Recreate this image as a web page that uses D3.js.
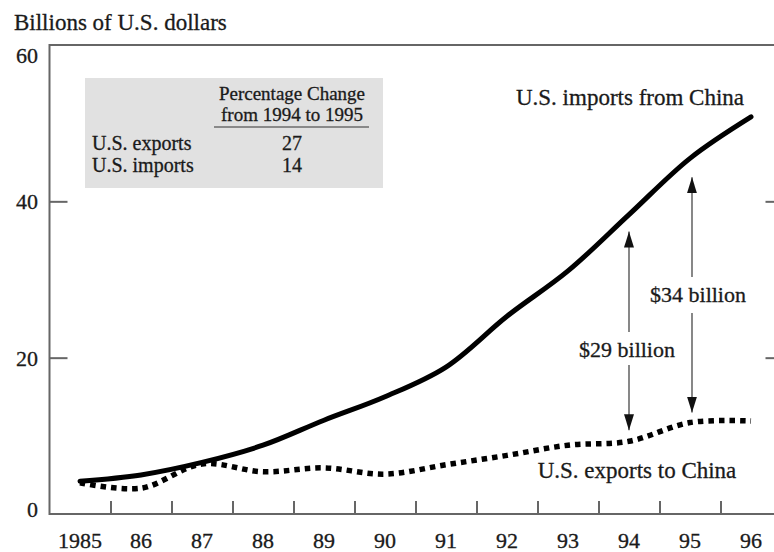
<!DOCTYPE html>
<html>
<head>
<meta charset="utf-8">
<script src="https://cdn.jsdelivr.net/npm/d3@7"></script>
<style>
  body { margin: 0; background: #fff; }
  svg text { font-family: "Liberation Serif", "DejaVu Serif", serif; fill: #1a1a1a; stroke: #1a1a1a; stroke-width: 0.3; }
</style>
</head>
<body>
<svg id="canvas" width="774" height="552"></svg>
<script>
let years = [1985, 1986, 1987, 1988, 1989, 1990, 1991, 1992, 1993, 1994, 1995, 1996]
let yearLabels = ['1985', '86', '87', '88', '89', '90', '91', '92', '93', '94', '95', '96']
let imports = [4.2, 5.0, 6.6, 8.8, 12.0, 15.0, 18.8, 25.3, 31.1, 38.3, 45.5, 50.8]
let exports = [4.0, 3.3, 6.4, 5.4, 5.9, 5.1, 6.3, 7.5, 8.8, 9.3, 11.7, 11.9]
let yTicks = [0, 20, 40, 60]
let tableRows = [['U.S. exports', '27'], ['U.S. imports', '14']]
let gaps = [{ year: 1994, label: '$29 billion' }, { year: 1995, label: '$34 billion' }]

let canvas = d3.select('#canvas')

let x = d3.scaleLinear().domain([1984.5, 1996.5]).range([49.5, 781.5])
let y = d3.scaleLinear().domain([0, 60]).range([514, 45])

// frame
canvas.append('rect')
    .attr('x', x(1984.5)).attr('y', y(60))
    .attr('width', x(1996.5) - x(1984.5)).attr('height', y(0) - y(60))
    .attr('fill', 'none').attr('stroke', '#666').attr('stroke-width', 2)

// ticks (inward)
let styleAxis = g => {
    g.select('.domain').remove()
    g.selectAll('.tick line').attr('stroke', '#666').attr('stroke-width', 2)
    g.selectAll('.tick text').remove()
}
canvas.append('g').attr('transform', `translate(0,${y(0)})`)
    .call(d3.axisBottom(x).tickValues(years.slice(0, -1).map(d => d + 0.5)).tickSize(-13))
    .call(styleAxis)
canvas.append('g').attr('transform', `translate(${x(1984.5)},0)`)
    .call(d3.axisLeft(y).tickValues([20, 40]).tickSize(-18))
    .call(styleAxis)
canvas.append('g').attr('transform', `translate(${x(1996.5)},0)`)
    .call(d3.axisRight(y).tickValues([20, 40]).tickSize(-16))
    .call(styleAxis)

// tick labels
canvas.selectAll('.xlab').data(years).enter().append('text')
    .attr('x', d => x(d)).attr('y', 548)
    .attr('text-anchor', 'middle').attr('font-size', 22)
    .text((d, i) => yearLabels[i])
canvas.selectAll('.ylab').data(yTicks).enter().append('text')
    .attr('x', 38).attr('y', d => Math.min(Math.max(y(d), y(60) + 10), y(0) - 5) + 8)
    .attr('text-anchor', 'end').attr('font-size', 22)
    .text(d => d)

canvas.append('text').attr('x', 14).attr('y', 30).attr('font-size', 23)
    .text('Billions of U.S. dollars')

// lines
let line = d3.line().x((d, i) => x(years[i])).y(d => y(d)).curve(d3.curveCatmullRom.alpha(0.5))
canvas.append('path').attr('d', line(exports))
    .attr('fill', 'none').attr('stroke', '#000').attr('stroke-width', 5.5)
    .attr('stroke-dasharray', '5.5,5')
canvas.append('path').attr('d', line(imports))
    .attr('fill', 'none').attr('stroke', '#000').attr('stroke-width', 5)
    .attr('stroke-linecap', 'round')

// line labels
canvas.append('text').attr('x', 630).attr('y', 105).attr('text-anchor', 'middle')
    .attr('font-size', 23).text('U.S. imports from China')
canvas.append('text').attr('x', 637).attr('y', 478).attr('text-anchor', 'middle')
    .attr('font-size', 23).text('U.S. exports to China')

// gap arrows
canvas.append('defs').append('marker').attr('id', 'head')
    .attr('viewBox', '0 0 16 10').attr('refX', 16).attr('refY', 5)
    .attr('markerWidth', 16).attr('markerHeight', 10)
    .attr('markerUnits', 'userSpaceOnUse').attr('orient', 'auto')
    .append('path').attr('d', 'M0,0 L16,5 L0,10 Z').attr('fill', '#111')

let arrowLayout = {
    1994: { dx: 0, top: 17, bottom: 11, label: 357, gapUp: 25, gapDown: 8, lx: -2 },
    1995: { dx: 2, top: 19, bottom: 10, label: 302, gapUp: 25, gapDown: 11, lx: 6 }
}
gaps.forEach(g => {
    let i = years.indexOf(g.year)
    let a = arrowLayout[g.year]
    let gx = x(g.year) + a.dx
    let top = y(imports[i]) + a.top
    let bottom = y(exports[i]) - a.bottom
    canvas.append('line').attr('x1', gx).attr('x2', gx).attr('y1', a.label - a.gapUp).attr('y2', top)
        .attr('stroke', '#555').attr('stroke-width', 1.4).attr('marker-end', 'url(#head)')
    canvas.append('line').attr('x1', gx).attr('x2', gx).attr('y1', a.label + a.gapDown).attr('y2', bottom)
        .attr('stroke', '#555').attr('stroke-width', 1.4).attr('marker-end', 'url(#head)')
    canvas.append('text').attr('x', gx + a.lx).attr('y', a.label)
        .attr('text-anchor', 'middle').attr('font-size', 22).text(g.label)
})

// inset table
let table = canvas.append('g')
table.append('rect').attr('x', 85).attr('y', 78).attr('width', 298).attr('height', 110)
    .attr('fill', '#e1e1e1')
table.append('text').attr('x', 292).attr('y', 100).attr('text-anchor', 'middle')
    .attr('font-size', 19).text('Percentage Change')
table.append('text').attr('x', 292).attr('y', 121).attr('text-anchor', 'middle')
    .attr('font-size', 19).text('from 1994 to 1995')
table.append('line').attr('x1', 214).attr('x2', 369).attr('y1', 127).attr('y2', 127)
    .attr('stroke', '#333').attr('stroke-width', 1.2)
table.selectAll('.row').data(tableRows).enter().append('g')
    .each(function (d, i) {
        let row = d3.select(this)
        row.append('text').attr('x', 92).attr('y', 150 + i * 22).attr('font-size', 20).text(d[0])
        row.append('text').attr('x', 292).attr('y', 150 + i * 22).attr('text-anchor', 'middle')
            .attr('font-size', 20).text(d[1])
    })
</script>
</body>
</html>
